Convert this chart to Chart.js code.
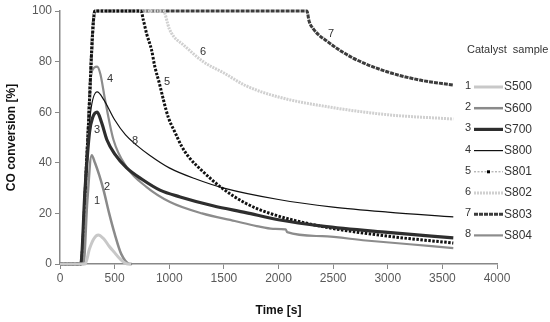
<!DOCTYPE html>
<html lang="en">
<head>
  <meta charset="UTF-8" />
  <title>CO conversion vs time</title>
  <script src="https://cdn.jsdelivr.net/npm/chart.js"></script>
  <style>
    body {
      margin: 0;
      background: #fff;
    }
    .chart-box {
      width: 550px;
      height: 322px;
    }
  </style>
</head>
<body>
  <div class="chart-box">
    <canvas id="coChart"></canvas>
  </div>

  <script>
    // values (time in s, conversion in %)
    const sampleNames = ["S500", "S600", "S700", "S800", "S801", "S802", "S803", "S804"];

    const s500T = [0, 230, 270, 310, 350, 400, 450, 500, 550, 620, 650];
    const s500Y = [0, 0, 6, 10, 11.5, 10, 7, 4.5, 2, 0, 0];

    const s600T = [0, 215, 250, 290, 320, 360, 400, 450, 500, 560, 640, 660];
    const s600Y = [0, 0, 25, 43, 40, 35, 29, 20, 12, 4, 0, 0];

    const s700T = [0, 190, 230, 270, 300, 340, 380, 430, 500, 610, 750, 915, 1100, 1400, 1700, 2000, 2400, 3000, 3600];
    const s700Y = [0, 0, 30, 52, 58, 60, 56, 49, 43.5, 38, 33.5, 29.2, 26.5, 23, 20.3, 17.5, 15, 12.5, 10.3];

    const s800T = [0, 190, 235, 280, 340, 400, 500, 600, 700, 820, 1000, 1250, 1500, 2000, 2500, 3000, 3600];
    const s800Y = [0, 0, 35, 60, 68, 65, 57, 51, 47, 43, 38, 33.5, 30, 25.5, 22.5, 20.5, 18.6];

    const s801T = [0, 190, 250, 320, 741, 763, 793, 838, 868, 909, 946, 991, 1053, 1114, 1175, 1309, 1483, 1700, 1922, 2380, 3000, 3600];
    const s801Y = [0, 0, 46, 100, 100, 96.4, 91, 84.6, 78, 71.5, 65, 58, 52, 46.5, 42.5, 36.5, 30, 24, 20, 15, 11, 8.3];

    const s802T = [0, 190, 250, 320, 945, 1000, 1040, 1130, 1310, 1500, 1700, 2000, 2500, 3000, 3600];
    const s802Y = [0, 0, 46, 100, 100, 93, 90, 86.6, 80, 75.5, 70.5, 66, 61.8, 59, 57.3];

    const s803T = [0, 190, 250, 320, 2260, 2280, 2317, 2455, 2683, 2993, 3295, 3600];
    const s803Y = [0, 0, 46, 100, 100, 96, 93, 87.7, 81.4, 76, 72.7, 70.7];

    const s804T = [0, 190, 240, 290, 340, 370, 412, 490, 610, 793, 1007, 1300, 1600, 1800, 1950, 2065, 2080, 2400, 2800, 3200, 3600];
    const s804Y = [0, 0, 38, 76, 78, 75, 65, 49, 38.3, 30.4, 24.5, 20, 17, 15, 13.9, 13.7, 12.6, 11, 9.3, 7.8, 6.3];

    // numbers written next to the curves: [text, time, conversion]
    const curveTags = [
      ["1", 339, 25], ["2", 430, 30.5], ["3", 339, 53], ["4", 458, 73],
      ["5", 979, 72], ["6", 1309, 84], ["7", 2480, 91], ["8", 686, 48.6]
    ];

    const xTicks = [0, 500, 1000, 1500, 2000, 2500, 3000, 3500, 4000];

    function zip(ts, ys) {
      return ts.map((t, i) => ({ x: t, y: ys[i] }));
    }

    const styles = [
      { color: "#c8c8c8", width: 3, dash: [] },
      { color: "#8a8a8a", width: 2.5, dash: [] },
      { color: "#2e2e2e", width: 3.2, dash: [] },
      { color: "#111111", width: 1.2, dash: [] },
      { color: "#111111", width: 3, dash: [2.5, 1.5] },
      { color: "#d0d0d0", width: 3, dash: [2, 1] },
      { color: "#3c3c3c", width: 3, dash: [4, 1] },
      { color: "#8c8c8c", width: 2.2, dash: [] }
    ];

    const series = [
      zip(s500T, s500Y), zip(s600T, s600Y), zip(s700T, s700Y), zip(s800T, s800Y),
      zip(s801T, s801Y), zip(s802T, s802Y), zip(s803T, s803Y), zip(s804T, s804Y)
    ];

    const datasets = series.map((pts, i) => ({
      label: sampleNames[i],
      data: pts,
      borderColor: styles[i].color,
      borderWidth: styles[i].width,
      borderDash: styles[i].dash,
      pointRadius: 0,
      fill: false,
      cubicInterpolationMode: "monotone",
      clip: false
    }));

    // legend with numbers on the right + curve numbers in the plot
    const sideLegend = {
      id: "sideLegend",
      afterDraw(chart) {
        const ctx = chart.ctx;
        const xs = chart.scales.x, ys = chart.scales.y;
        ctx.save();
        ctx.fillStyle = "#333";
        ctx.font = "11px 'Liberation Sans', Arial, sans-serif";
        ctx.textAlign = "center";
        ctx.textBaseline = "middle";
        curveTags.forEach(([txt, t, v]) => {
          ctx.fillText(txt, xs.getPixelForValue(t), ys.getPixelForValue(v));
        });

        ctx.textAlign = "left";
        ctx.fillText("Catalyst  sample", 467, 50);

        sampleNames.forEach((name, i) => {
          const y = 87 + i * 21.2;
          const st = styles[i];
          ctx.fillStyle = "#333";
          ctx.font = "11px 'Liberation Sans', Arial, sans-serif";
          ctx.textAlign = "right";
          ctx.fillText(String(i + 1), 471, y - 1);
          ctx.beginPath();
          if (i === 4) {
            ctx.strokeStyle = "#999";
            ctx.lineWidth = 1;
            ctx.setLineDash([2, 1.5]);
          } else {
            ctx.strokeStyle = st.color;
            ctx.lineWidth = st.width;
            ctx.setLineDash(st.dash);
          }
          ctx.moveTo(474, y);
          ctx.lineTo(503, y);
          ctx.stroke();
          ctx.setLineDash([]);
          if (i === 4) {
            ctx.fillStyle = "#000";
            ctx.fillRect(487, y - 1.5, 3, 3);
          }
          ctx.fillStyle = "#333";
          ctx.font = "12px 'Liberation Sans', Arial, sans-serif";
          ctx.textAlign = "left";
          ctx.fillText(name, 504, y);
        });
        ctx.restore();
      }
    };

    new Chart(document.getElementById("coChart"), {
      type: "line",
      data: { datasets: datasets },
      plugins: [sideLegend],
      options: {
        responsive: true,
        maintainAspectRatio: false,
        animation: false,
        layout: { padding: { top: 11, right: 53, bottom: 0, left: 0 } },
        plugins: {
          legend: { display: false },
          tooltip: { enabled: false }
        },
        scales: {
          x: {
            type: "linear",
            min: 0,
            max: 4000,
            afterFit(scale) { scale.height = 58; },
            afterBuildTicks(scale) { scale.ticks = xTicks.map(v => ({ value: v })); },
            border: { color: "#888", width: 1.5 },
            grid: { drawOnChartArea: false, drawTicks: true, tickLength: 5, color: "#888" },
            ticks: {
              color: "#595959",
              padding: 2,
              maxRotation: 0,
              callback: v => String(v),
              font: { family: "'Liberation Sans', Arial, sans-serif", size: 12 }
            },
            title: {
              display: true,
              text: "Time [s]",
              color: "#111",
              padding: { top: 3 },
              font: { family: "'Liberation Sans', Arial, sans-serif", size: 12, weight: "bold" }
            }
          },
          y: {
            min: 0,
            max: 100,
            afterFit(scale) { scale.width = 60; },
            border: { color: "#888", width: 1.5 },
            grid: { drawOnChartArea: false, drawTicks: true, tickLength: 5, color: "#888" },
            ticks: {
              stepSize: 20,
              color: "#595959",
              padding: 3,
              callback: v => String(v),
              font: { family: "'Liberation Sans', Arial, sans-serif", size: 12 }
            },
            title: {
              display: true,
              text: "CO conversion [%]",
              color: "#111",
              padding: { top: 4, bottom: 0 },
              font: { family: "'Liberation Sans', Arial, sans-serif", size: 12, weight: "bold" }
            }
          }
        }
      }
    });
  </script>
</body>
</html>
